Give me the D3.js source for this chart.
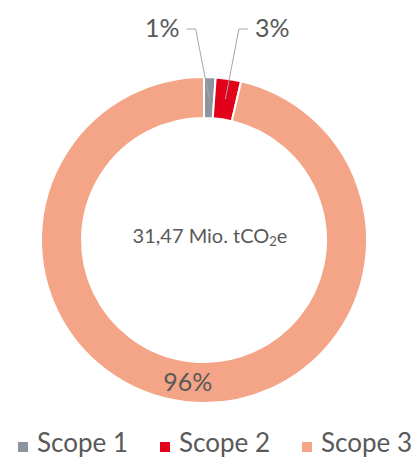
<!DOCTYPE html>
<html>
<head>
<meta charset="utf-8">
<script src="https://cdn.jsdelivr.net/npm/d3@7"></script>
<style>
  body { margin: 0; background: #fff; }
  text { font-family: Lato, "Open Sans", sans-serif; fill: #595959; }
</style>
</head>
<body>
<svg id="chart" width="415" height="458"></svg>
<script>
// emissions in Mio. tCO2e
var scopes = ["Scope 1", "Scope 2", "Scope 3"];
var emissions = [0.36, 0.79, 30.32];
var pctLabels = ["1%", "3%", "96%"];
var colors = ["#8c959d", "#e3001b", "#f4a487"];

var width = 415, height = 458;
var cx = 204, cy = 240;
var outerR = 163, innerR = 122;

var svg = d3.select("#chart");

var pie = d3.pie().sort(null).value(function (d) { return d; });
var arc = d3.arc().innerRadius(innerR).outerRadius(outerR);

var arcs = pie(emissions);

var g = svg.append("g").attr("transform", "translate(" + cx + "," + cy + ")");

g.selectAll("path.slice")
    .data(arcs)
    .enter().append("path")
    .attr("class", "slice")
    .attr("d", arc)
    .attr("fill", function (d, i) { return colors[i]; })
    .attr("stroke", "#fff")
    .attr("stroke-width", 2);

// small slices get leader lines, the big one sits inside the ring
arcs.forEach(function (d, i) {
    var c = arc.centroid(d);
    if (i < 2) {
        var side = (i == 0) ? -1 : 1;
        var ex = c[0] + side * 13.5, ey = -211;
        var hx = ex + side * 9;
        g.append("polyline")
            .attr("points", [c, [ex, ey], [hx, ey]].map(function (p) { return p.join(","); }).join(" "))
            .attr("fill", "none")
            .attr("stroke", "#a6a6a6")
            .attr("stroke-width", 1);
        g.append("text")
            .attr("x", hx + side * 7)
            .attr("y", ey + 8)
            .attr("text-anchor", side < 0 ? "end" : "start")
            .style("font-size", "25px")
            .text(pctLabels[i]);
    } else {
        g.append("text")
            .attr("x", c[0])
            .attr("y", c[1] + 9)
            .attr("text-anchor", "middle")
            .style("font-size", "25px")
            .text(pctLabels[i]);
    }
});

// total in the middle
var total = d3.sum(emissions);
var centre = g.append("text")
    .attr("x", 6)
    .attr("y", 3)
    .attr("text-anchor", "middle")
    .style("font-size", "20px");
centre.append("tspan").text(d3.format(".2f")(total).replace(".", ",") + " Mio. tCO");
centre.append("tspan").attr("baseline-shift", "-25%").style("font-size", "13px").text("2");
centre.append("tspan").text("e");

// legend
var legend = svg.selectAll("g.legend")
    .data(scopes)
    .enter().append("g")
    .attr("class", "legend")
    .attr("transform", function (d, i) { return "translate(" + (18 + i * 142) + ",442)"; });

legend.append("rect")
    .attr("width", 10)
    .attr("height", 10)
    .attr("fill", function (d, i) { return colors[i]; });

legend.append("text")
    .attr("x", 19)
    .attr("y", 10)
    .style("font-size", "26px")
    .text(function (d) { return d; });
</script>
</body>
</html>
